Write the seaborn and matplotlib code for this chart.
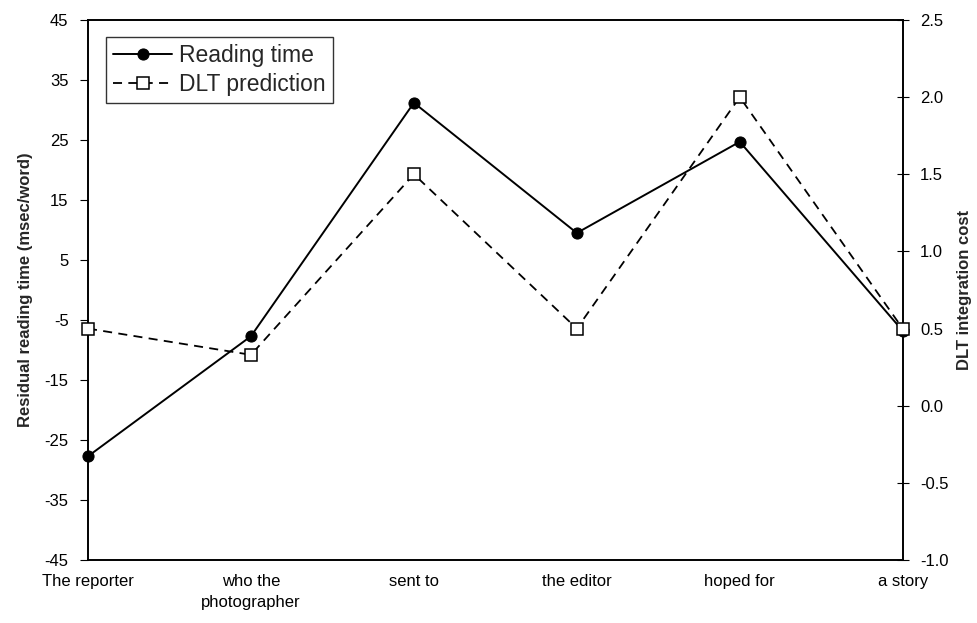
import matplotlib
matplotlib.use("Agg")
import matplotlib.pyplot as plt
import seaborn as sns
import pandas as pd
import numpy as np

categories = ["The reporter", "who the\nphotographer", "sent to", "the editor", "hoped for", "a story"]
reading_time = [-27.7, -7.7, 31.2, 9.5, 24.7, -6.8]
dlt_cost = [0.5, 0.33, 1.5, 0.5, 2.0, 0.5]
left_ticks = [45, 35, 25, 15, 5, -5, -15, -25, -35, -45]
right_ticks = [2.5, 2.0, 1.5, 1.0, 0.5, 0.0, -0.5, -1.0]

sns.set_style("white")
plt.rcParams['font.family'] = ['Liberation Sans', 'DejaVu Sans']

df = pd.DataFrame({"pos": np.arange(len(categories)), "rt": reading_time, "dlt": dlt_cost})

fig = plt.figure(figsize=(9.78, 6.23), dpi=100)
ax = fig.add_axes([0.090, 0.101, 0.833, 0.867])
ax2 = ax.twinx()

sns.lineplot(data=df, x="pos", y="rt", ax=ax, color="black", linewidth=1.4,
             marker="o", markersize=8, markerfacecolor="black", markeredgecolor="black",
             label="Reading time", legend=False, zorder=3, clip_on=False)
sns.lineplot(data=df, x="pos", y="dlt", ax=ax2, color="black", linewidth=1.3,
             linestyle=(0, (5, 3.5)), marker="s", markersize=8,
             markerfacecolor="white", markeredgecolor="black", markeredgewidth=1.1,
             label="DLT prediction", legend=False, zorder=4, clip_on=False)

ax.set_xlim(0, len(categories) - 1)
ax.set_ylim(-45, 45)
ax2.set_ylim(-1.0, 2.5)
ax.set_yticks(left_ticks)
ax.set_yticklabels([str(t) for t in left_ticks])
ax2.set_yticks(right_ticks)
ax2.set_yticklabels([f"{t:.1f}" for t in right_ticks])
ax.set_xticks(df["pos"])
ax.set_xticklabels(categories, fontsize=12, va="top", linespacing=1.5)

for a in (ax, ax2):
    for s in a.spines.values():
        s.set_visible(True)
        s.set_color("black")
        s.set_linewidth(1.2)

ax.tick_params(axis="y", direction="out", length=6, width=0.8, labelsize=12, pad=8, colors="black")
ax.tick_params(axis="x", direction="in", length=6, width=0.8, labelsize=12, pad=10, colors="black")
ax2.tick_params(axis="y", direction="inout", length=9, width=0.8, labelsize=12, pad=8, colors="black")

ax.set_xlabel("")
ax.set_ylabel("Residual reading time (msec/word)", fontsize=12, fontweight="bold", labelpad=8)
ax2.set_ylabel("DLT integration cost", fontsize=12, fontweight="bold", labelpad=6)

handles = [ax.get_lines()[0], ax2.get_lines()[0]]
leg = ax2.legend(handles, ["Reading time", "DLT prediction"], loc="upper left",
                 bbox_to_anchor=(0.022, 0.968), fontsize=16.5, frameon=True, fancybox=False,
                 edgecolor="black", handlelength=2.6, handletextpad=0.3, borderpad=0.3,
                 labelspacing=0.25, borderaxespad=0)
leg.get_frame().set_linewidth(1.0)
leg.set_zorder(10)

fig.savefig("out.png", dpi=100, facecolor="white")
